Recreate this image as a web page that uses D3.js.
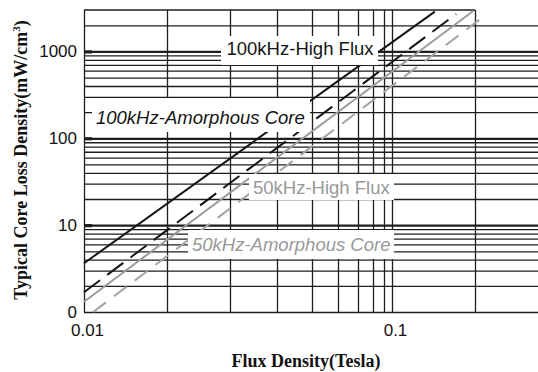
<!DOCTYPE html>
<html lang="en">
<head>
<meta charset="UTF-8">
<title>Typical Core Loss Density</title>
<script src="https://d3js.org/d3.v7.min.js"></script>
<style>
  body { margin: 0; background: #fff; }
  svg { display: block; }
  .grid line { stroke: #1e1e1e; stroke-width: 1.3; }
  .grid path, .labels path { display: none; }
  .major line { stroke-width: 2.2; }
  .stub line { stroke: #1e1e1e; stroke-width: 3.2; }
  .labels text { font-family: "Liberation Sans", Arial, sans-serif; font-size: 17px; fill: #111; }
  .title { font-family: "Liberation Serif", "Times New Roman", serif; font-weight: bold; font-size: 18px; fill: #111; }
  .note { font-family: "Liberation Sans", Arial, sans-serif; font-size: 18.5px; }
</style>
</head>
<body>
<div id="chart"></div>
<script>
// x grid values (Tesla) and where the scanned sheet puts each of them
const xGrid = [0.01, 0.02, 0.03, 0.04, 0.05, 0.06, 0.07, 0.08, 0.09, 0.1, 0.2, 1];
const xGridPx = [84, 167, 230, 277, 312, 338, 358, 373, 384, 392, 475, 540];
const xTicks = [0.01, 0.1, 1];
const xTickLabels = ["0.01", "0.1", "1"];

const yMajor = [10, 100, 1000];
const yTicks = [1, 10, 100, 1000];
const yTickLabels = ["0", "10", "100", "1000"];
const yMinor = [1, 2, 3, 4, 5, 6, 7, 8, 9,
  20, 30, 40, 50, 60, 70, 80, 90,
  200, 300, 400, 500, 600, 700, 800, 900, 2000];

// loss lines, [flux T, loss mW/cm3] at both ends
const hf100 = [[0.01, 3.64], [0.143, 2870]];
const am100 = [[0.01, 1.69], [0.171, 2700]];
const hf50 = [[0.01, 1.31], [0.197, 2920]];
const am50 = [[0.0108, 1.0], [0.269, 2700]];

const width = 538, height = 372;
const plotTop = 10, plotBottom = 312;

const svg = d3.select("#chart").append("svg")
  .attr("width", width)
  .attr("height", height);

const x = d3.scaleLog().domain(xGrid).range(xGridPx);
const y = d3.scaleLog().domain([1, 3000]).range([plotBottom, plotTop]);
const left = x(0.01), right = x(1);

// horizontal grid
svg.append("g").attr("class", "grid")
  .attr("transform", "translate(" + left + ",0)")
  .call(d3.axisLeft(y).tickValues(yMinor).tickSize(-(right - left)).tickFormat(""));

svg.append("g").attr("class", "grid major")
  .attr("transform", "translate(" + left + ",0)")
  .call(d3.axisLeft(y).tickValues(yMajor).tickSize(-(right - left)).tickFormat(""));

svg.append("g").attr("class", "stub")
  .attr("transform", "translate(" + left + ",0)")
  .call(d3.axisLeft(y).tickValues(yMajor).tickSize(-8).tickFormat(""))
  .select(".domain").remove();

// vertical grid
svg.append("g").attr("class", "grid")
  .attr("transform", "translate(0," + plotBottom + ")")
  .call(d3.axisBottom(x).tickValues(xGrid.slice(0, -1)).tickSize(-(plotBottom - plotTop)).tickFormat(""));

// top border stops at the 0.2 line
svg.append("line")
  .attr("x1", left).attr("x2", x(0.2))
  .attr("y1", y(3000)).attr("y2", y(3000))
  .attr("stroke", "#1e1e1e").attr("stroke-width", 1.3);

// tick labels
svg.append("g").attr("class", "labels")
  .attr("transform", "translate(" + left + ",0)")
  .call(d3.axisLeft(y).tickValues(yTicks).tickSize(0).tickPadding(7)
    .tickFormat((d, i) => yTickLabels[i]));

svg.append("g").attr("class", "labels")
  .attr("transform", "translate(0," + plotBottom + ")")
  .call(d3.axisBottom(x).tickValues(xTicks).tickSize(0).tickPadding(12)
    .tickFormat((d, i) => xTickLabels[i]))
  .selectAll("text").attr("dx", 3);

// lines
const line = d3.line().x(d => x(d[0])).y(d => y(d[1]));

const series = [
  { data: hf100, color: "#151515", dash: null },
  { data: am100, color: "#151515", dash: "20,9" },
  { data: hf50, color: "#9c9c9c", dash: null },
  { data: am50, color: "#a3a3a3", dash: "16,10" }
];

svg.selectAll(".loss").data(series).join("path")
  .attr("class", "loss")
  .attr("d", d => line(d.data))
  .attr("fill", "none")
  .attr("stroke", d => d.color)
  .attr("stroke-width", 2)
  .attr("stroke-dasharray", d => d.dash);

// labels sit on white boxes that cover grid and lines
const notes = [
  { text: "100kHz-High Flux", x: 226.5, y: 55, box: [221, 36, 378, 65], italic: false, color: "#151515" },
  { text: "100kHz-Amorphous Core", x: 96, y: 124.3, box: [92, 98, 310, 132], italic: true, color: "#151515" },
  { text: "50kHz-High Flux", x: 253, y: 194.3, box: [249, 174, 394, 200], italic: false, color: "#999" },
  { text: "50kHz-Amorphous Core", x: 192, y: 250.6, box: [188, 230, 394, 259], italic: true, color: "#999" }
];

svg.selectAll(".box").data(notes).join("rect")
  .attr("class", "box")
  .attr("x", d => d.box[0]).attr("y", d => d.box[1])
  .attr("width", d => d.box[2] - d.box[0])
  .attr("height", d => d.box[3] - d.box[1])
  .attr("fill", "#fff");

svg.selectAll(".note").data(notes).join("text")
  .attr("class", "note")
  .attr("x", d => d.x).attr("y", d => d.y)
  .attr("fill", d => d.color)
  .attr("font-style", d => d.italic ? "italic" : "normal")
  .text(d => d.text);

// axis titles
svg.append("text").attr("class", "title")
  .attr("x", 306).attr("y", 367)
  .attr("text-anchor", "middle")
  .text("Flux Density(Tesla)");

const yt = svg.append("text").attr("class", "title")
  .attr("transform", "translate(27,160) rotate(-90)")
  .attr("text-anchor", "middle");
yt.append("tspan").text("Typical Core Loss Density(mW/cm");
yt.append("tspan").attr("font-size", 11).attr("dy", -7).text("3");
yt.append("tspan").attr("dy", 7).text(")");
</script>
</body>
</html>
